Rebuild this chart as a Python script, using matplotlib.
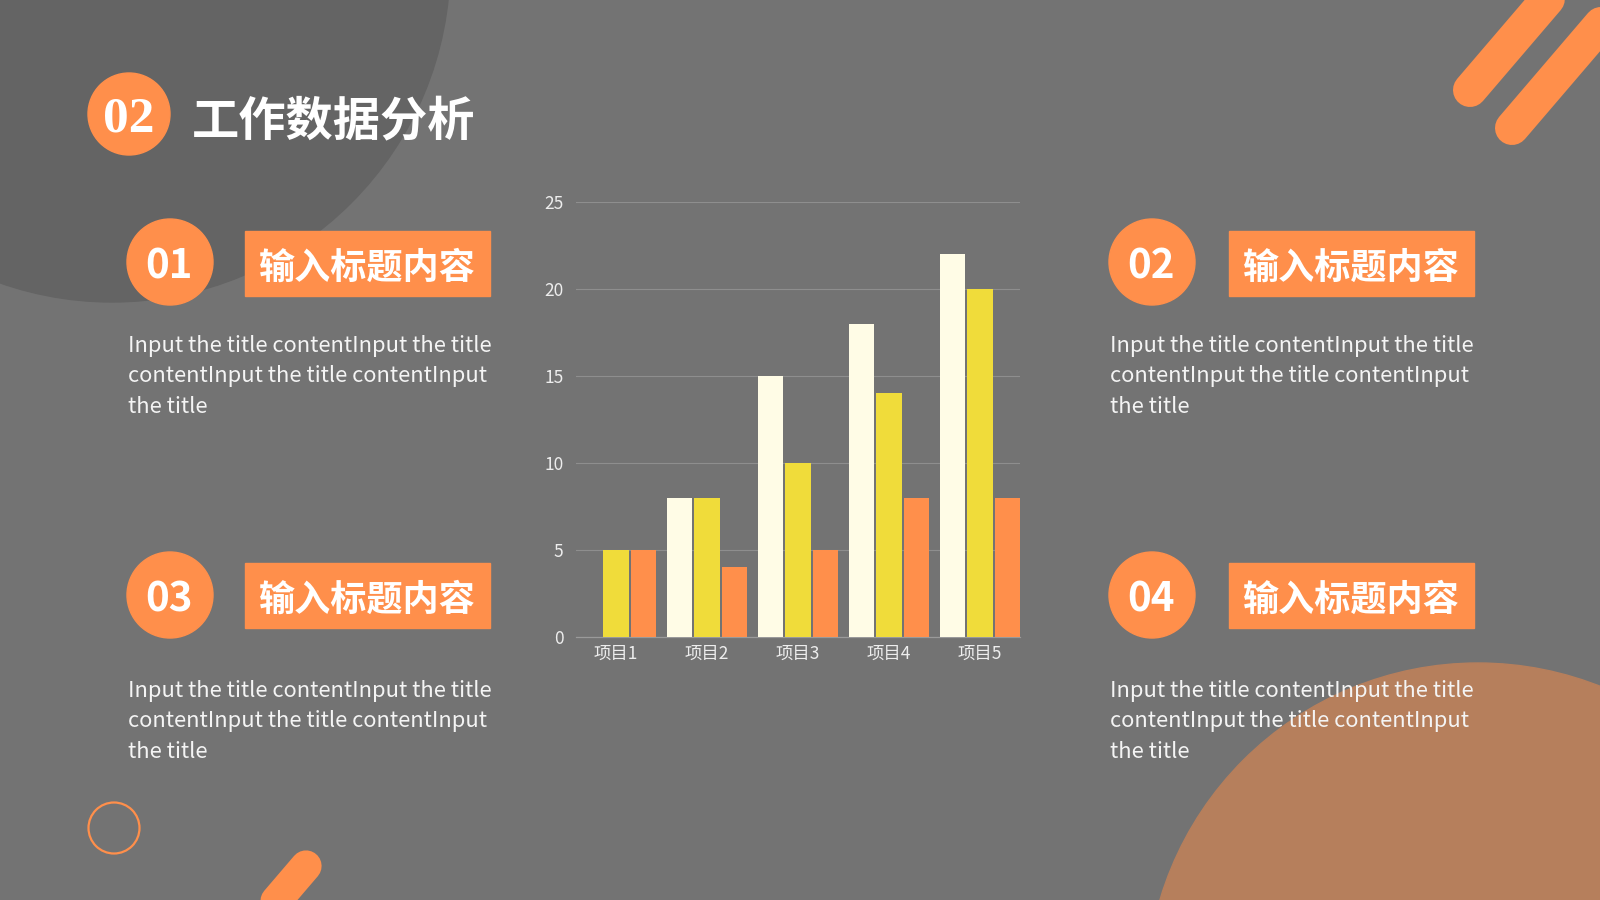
import matplotlib
matplotlib.use('Agg')
import matplotlib.pyplot as plt
import matplotlib.patches as mpatches
import numpy as np

# chart data
categories = ['项目1', '项目2', '项目3', '项目4', '项目5']
series_names = ['系列1', '系列2', '系列3']
series1 = [0, 8, 15, 18, 22]
series2 = [5, 8, 10, 14, 20]
series3 = [5, 4, 5, 8, 8]
y_ticks = [0, 5, 10, 15, 20, 25]

# slide text
title_num = '02'
title = '工作数据分析'
block_nums = ['01', '02', '03', '04']
block_heads = ['输入标题内容'] * 4
body_lines = ['Input the title contentInput the title',
              'contentInput the title contentInput',
              'the title']

BG = '#737373'
DARK = '#646464'
ORANGE = '#FF8F4B'
BROWN = '#B67F5C'
TEXT = '#F4F4F4'
BAR_COLORS = ['#FFFCE6', '#F0DC3A', '#FF8F4B']
CJK = ['Noto Sans CJK SC', 'DejaVu Sans']

fig = plt.figure(figsize=(16, 9), dpi=100, facecolor=BG)

# ---- background layer in pixel coords ----
bg = fig.add_axes([0, 0, 1, 1])
bg.set_xlim(0, 1600)
bg.set_ylim(900, 0)
bg.axis('off')
bg.set_facecolor(BG)

bg.add_patch(mpatches.Circle((112, -36), 338, color=DARK, zorder=1))
bg.add_patch(mpatches.Circle((1478, 995), 332, color=BROWN, zorder=1))

# stripes
for (x0, y0) in [(1470, 90), (1512, 128)]:
    bg.plot([x0, x0 + 77 * 1.8], [y0, y0 - 90 * 1.8], color=ORANGE,
            lw=24.5, solid_capstyle='round', zorder=2)
bg.plot([306, 306 - 77 * 0.9], [866, 866 + 90 * 0.9], color=ORANGE,
        lw=22.5, solid_capstyle='round', zorder=2)
bg.add_patch(mpatches.Circle((114, 828), 25.5, fill=False, ec=ORANGE, lw=1.6, zorder=2))

# title
bg.add_patch(mpatches.Circle((129, 114), 41, color=ORANGE, zorder=3))
bg.text(129, 119, title_num, color='white', fontsize=37, fontweight='bold',
        family='Liberation Serif', ha='center', va='center', zorder=4)
bg.text(192, 121, title, color='white', fontsize=34, fontweight='black',
        family=CJK, ha='left', va='center', zorder=4)

# four text blocks
circ_pos = [(170, 262), (1152, 262), (170, 595), (1152, 595)]
rect_pos = [(245, 231), (1229, 231), (245, 563), (1229, 563)]
body_base = [(128, [352, 382, 413]), (1110, [352, 382, 413]),
             (128, [697, 727, 758]), (1110, [697, 727, 758])]
for i in range(4):
    cx, cy = circ_pos[i]
    bg.add_patch(mpatches.Circle((cx, cy), 43, color=ORANGE, zorder=3))
    bg.text(cx - 1, cy + 5, block_nums[i], color='white', fontsize=29,
            fontweight='bold', family=CJK, ha='center', va='center', zorder=4)
    rx, ry = rect_pos[i]
    bg.add_patch(mpatches.Rectangle((rx, ry), 245, 65, color=ORANGE, zorder=3))
    bg.text(rx + 122.5, ry + 37, block_heads[i], color='white', fontsize=26,
            fontweight='black', family=CJK, ha='center', va='center', zorder=4)
    bx, bys = body_base[i]
    for line, by in zip(body_lines, bys):
        bg.text(bx, by, line, color=TEXT, fontsize=15.8, family=CJK,
                ha='left', va='baseline', zorder=4)

# ---- bar chart ----
ax = fig.add_axes([576 / 1600, 1 - 636.7 / 900, 444 / 1600, 435 / 900])
ax.set_facecolor('none')
x = np.arange(len(categories))
pitch, width = 0.3, 0.28
for k, vals in enumerate([series1, series2, series3]):
    ax.bar(x + (k - 1) * pitch, vals, width=width, color=BAR_COLORS[k],
           label=series_names[k], zorder=3)

ax.set_xlim(-0.44, 4.44)
ax.set_ylim(0, 25)
ax.set_yticks(y_ticks)
ax.set_xticks(x)
ax.set_xticklabels(categories)
ax.grid(axis='y', color='#8E8E8E', lw=0.8, zorder=0)
for s in ['top', 'right', 'left']:
    ax.spines[s].set_visible(False)
ax.spines['bottom'].set_color('#9A9A9A')
ax.spines['bottom'].set_linewidth(0.9)
ax.tick_params(length=0, colors='#EDEDED', labelsize=12.5)
ax.tick_params(axis='y', pad=9)
ax.tick_params(axis='x', pad=6)
for lab in ax.get_xticklabels() + ax.get_yticklabels():
    lab.set_family(CJK)

fig.savefig('out.png', dpi=100, facecolor=BG)
